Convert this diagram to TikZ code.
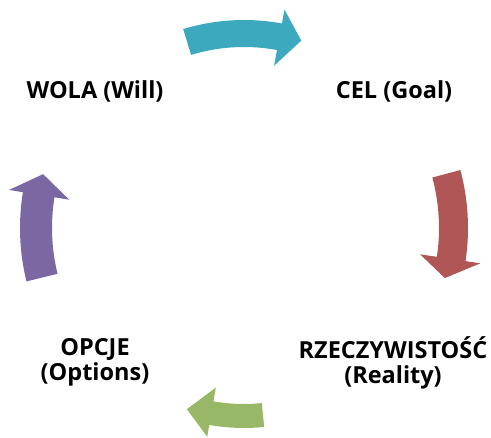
\documentclass[tikz,border=0pt]{standalone}
\usepackage{fontspec}
\setmainfont{Open Sans}
\definecolor{cteal}{HTML}{3CA9BF}
\definecolor{cred}{HTML}{B05656}
\definecolor{cgreen}{HTML}{98B868}
\definecolor{cpurple}{HTML}{7B68A2}
\tikzset{
  lbl/.style={inner sep=0pt, align=center, text=black,
    font={\fontsize{23.5}{25}\selectfont\bfseries}},
  blockarr/.style={draw=none}
}
\begin{document}
\begin{tikzpicture}[x=1pt,y=1pt]
\useasboundingbox (0,0) rectangle (491,438);
% labels
\node[lbl] (will) at (95,347) {WOLA (Will)};
\node[lbl] (goal) at (394,347) {CEL (Goal)};
\node[lbl] (reality) at (393,75.5) {RZECZYWISTOŚĆ\\(Reality)};
\node[lbl] (options) at (95,75.5) {OPCJE\\(Options)};
% arrows
\begin{scope}[shift={(244,210)}]
\fill[cteal] (107:208) arc[start angle=107, end angle=79.5, radius=208]
  -- (79.5:222) -- (73:196) -- (79.5:165) -- (79.5:181)
  arc[start angle=79.5, end angle=107, radius=181] -- cycle;
\fill[cred] (15:224) arc[start angle=15, end angle=-8.5, radius=224]
  -- (-8.5:239) -- (-14:207) -- (-8.5:178) -- (-8.5:195)
  arc[start angle=-8.5, end angle=15, radius=195] -- cycle;
\fill[cgreen] (-84.2:200) arc[start angle=-84.2, end angle=-100, radius=200]
  -- (-100:212) -- (-107.5:190) -- (-100:162) -- (-100:176)
  arc[start angle=-100, end angle=-84.2, radius=176] -- cycle;
\fill[cpurple] (193.8:192) arc[start angle=193.8, end angle=170.8, radius=192]
  -- (170.8:177) -- (165:208) -- (170.8:238) -- (170.8:224)
  arc[start angle=170.8, end angle=193.8, radius=224] -- cycle;
\end{scope}
\end{tikzpicture}
\end{document}
